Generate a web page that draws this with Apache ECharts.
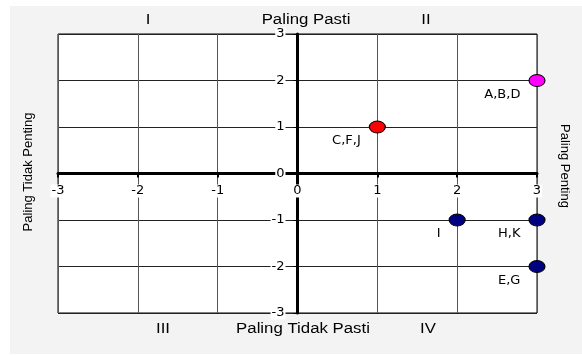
<!DOCTYPE html>
<html>
<head>
<meta charset="utf-8">
<script src="https://cdn.jsdelivr.net/npm/echarts@6/dist/echarts.min.js"></script>
<style>
  html, body { margin: 0; padding: 0; background: #ffffff; }
  #wrap { position: relative; width: 582px; height: 356px; }
  #bg { position: absolute; left: 10px; top: 6px; width: 572px; height: 348px; background: #f3f3f3; }
  #main { position: absolute; left: 0; top: 0; width: 582px; height: 356px; }
</style>
</head>
<body>
<div id="wrap"><div id="bg"></div><div id="main"></div></div>
<script>
// data
var pointX = [3, 1, 2, 3, 3];
var pointY = [2, 1, -1, -1, -2];
var pointNames = ['A,B,D', 'C,F,J', 'I', 'H,K', 'E,G'];
var xTicks = [-3, -2, -1, 0, 1, 2, 3];
var yTicks = [-3, -2, -1, 0, 1, 2, 3];

var pointColors = ['#ff00ff', '#ff0000', '#000080', '#000080', '#000080'];
var font = 'Liberation Sans, Arial, sans-serif';
var wideFont = 'DejaVu Sans, sans-serif';

var gridLeft = 58, gridRight = 45, gridTop = 34, gridBottom = 43;
var plotW = 582 - gridLeft - gridRight;
var plotH = 356 - gridTop - gridBottom;

var myChart = echarts.init(document.getElementById('main'), null, { renderer: 'canvas' });

var data = pointX.map(function (x, i) {
    return {
        value: [x, pointY[i]],
        name: pointNames[i],
        itemStyle: { color: pointColors[i] }
    };
});

var axisLabelStyle = {
    color: '#000',
    fontFamily: wideFont,
    fontSize: 13,
    backgroundColor: '#fff',
    padding: [0, 1]
};

// axes sit on zero: shift the whole axis (line, ticks, labels) into the middle
var xMin = xTicks[0], xMax = xTicks[xTicks.length - 1];
var yMin = yTicks[0], yMax = yTicks[yTicks.length - 1];
var xAxisShift = -plotH * (0 - yMin) / (yMax - yMin);
var yAxisShift = -plotW * (0 - xMin) / (xMax - xMin);

// stretched text like the original
function wideText(txt, x, y) {
    return {
        type: 'text', x: x, y: y, scaleX: 1.2,
        style: { text: txt, font: '14px ' + font, fill: '#000', align: 'center', verticalAlign: 'middle' }
    };
}

var option = {
    animation: false,
    backgroundColor: 'transparent',
    grid: {
        left: gridLeft, right: gridRight, top: gridTop, bottom: gridBottom,
        show: true,
        backgroundColor: '#ffffff',
        borderColor: '#000',
        borderWidth: 1
    },
    xAxis: {
        type: 'value',
        min: xMin, max: xMax, interval: 1,
        offset: xAxisShift,
        axisLine: { onZero: false, lineStyle: { color: '#000', width: 3 } },
        axisTick: { show: true, length: 4, lineStyle: { color: '#000', width: 2 } },
        axisLabel: Object.assign({ margin: 11 }, axisLabelStyle),
        splitLine: { show: true, lineStyle: { color: '#555', width: 1 } }
    },
    yAxis: {
        type: 'value',
        min: yMin, max: yMax, interval: 1,
        offset: yAxisShift,
        axisLine: { onZero: false, lineStyle: { color: '#000', width: 3 } },
        axisTick: { show: true, length: 4, lineStyle: { color: '#000', width: 1 } },
        axisLabel: Object.assign({ margin: 12 }, axisLabelStyle),
        splitLine: { show: true, lineStyle: { color: '#222', width: 1 } }
    },
    series: [{
        type: 'scatter',
        data: data,
        symbol: 'circle',
        symbolSize: [16, 12],
        itemStyle: { borderColor: '#000', borderWidth: 1, opacity: 1 },
        z: 5,
        label: {
            show: true,
            formatter: '{b}',
            position: [-8, 14],
            align: 'right',
            verticalAlign: 'top',
            color: '#000',
            fontFamily: wideFont,
            fontSize: 13
        }
    }],
    graphic: [
        wideText('I', 148, 20),
        wideText('Paling Pasti', 306, 20),
        wideText('II', 426, 20),
        wideText('III', 163, 329),
        wideText('Paling Tidak Pasti', 303, 329),
        wideText('IV', 428, 329),
        {
            type: 'text', x: 28, y: 172, rotation: Math.PI / 2,
            style: { text: 'Paling Tidak Penting', font: '13px ' + font, fill: '#000', align: 'center', verticalAlign: 'middle' }
        },
        {
            type: 'text', x: 565, y: 166, rotation: -Math.PI / 2,
            style: { text: 'Paling Penting', font: '13px ' + font, fill: '#000', align: 'center', verticalAlign: 'middle' }
        }
    ]
};

myChart.setOption(option);
</script>
</body>
</html>
